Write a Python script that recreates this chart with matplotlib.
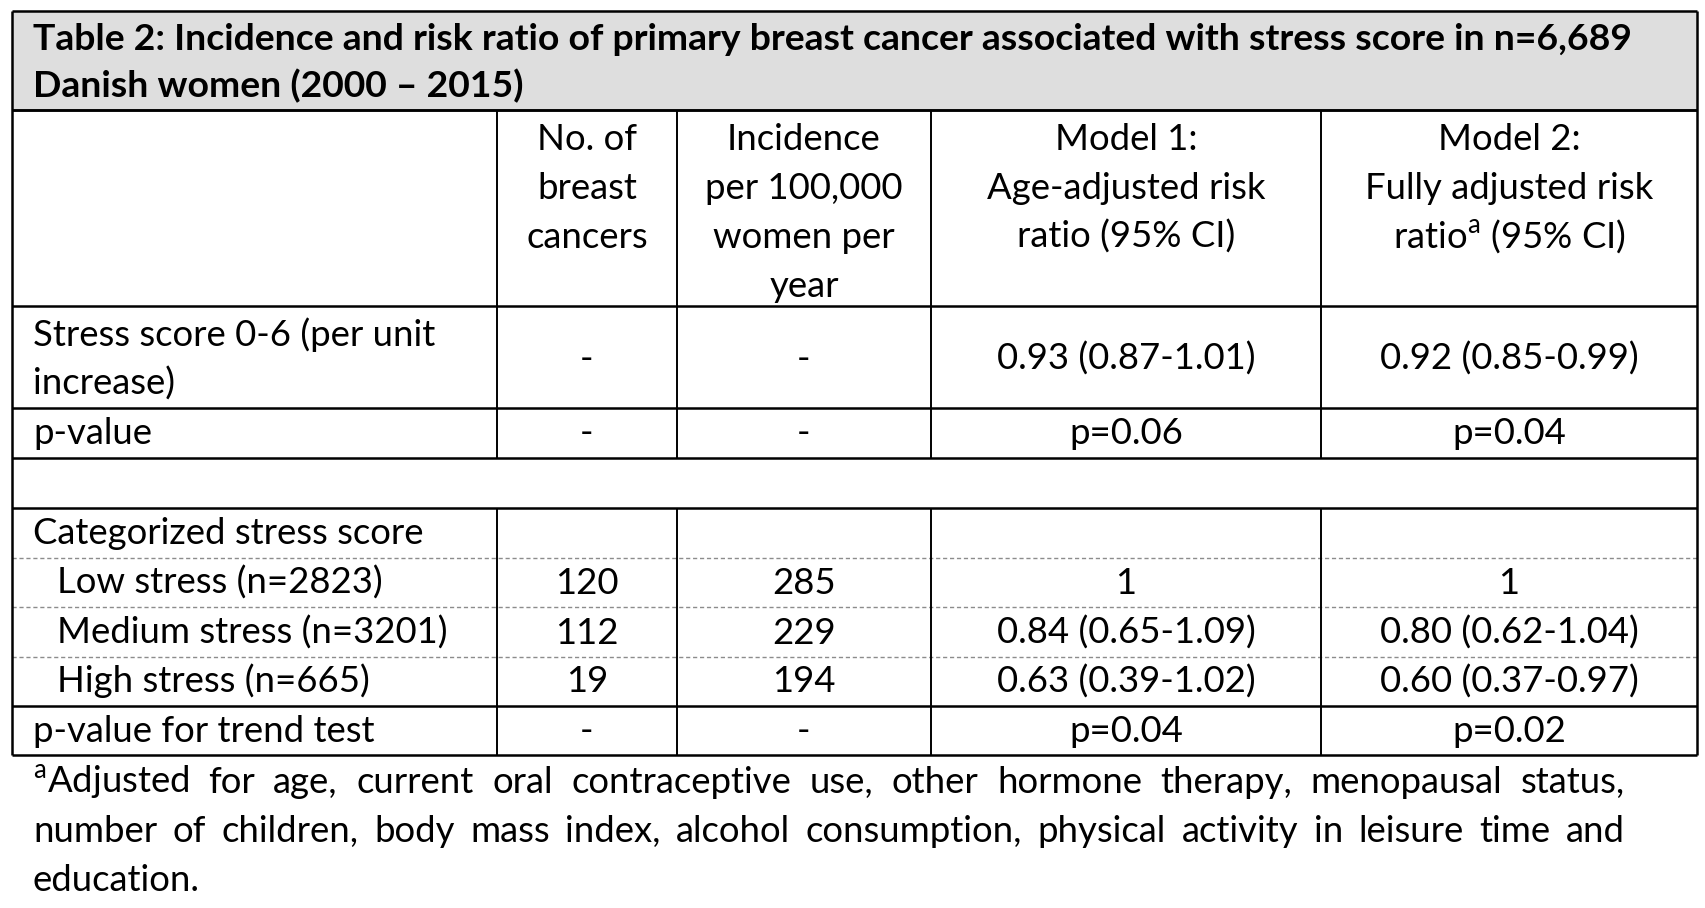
import matplotlib.pyplot as plt

plt.rcParams["font.family"] = ["Lato", "DejaVu Sans"]
plt.rcParams["mathtext.fontset"] = "custom"
plt.rcParams["mathtext.rm"] = "Lato"

W, H = 1706, 908
FS = 26.3  # body text size, pt
TITLE_FS = 26.9

# ---- table content ----
title_lines = [
    "Table 2: Incidence and risk ratio of primary breast cancer associated with stress score in n=6,689",
    "Danish women (2000 – 2015)",
]
col_headers = [
    ["No. of", "breast", "cancers"],
    ["Incidence", "per 100,000", "women per", "year"],
    ["Model 1:", "Age-adjusted risk", "ratio (95% CI)"],
    ["Model 2:", "Fully adjusted risk", r"ratio$^{\mathrm{a}}$ (95% CI)"],
]
row_labels = [
    ["Stress score 0-6 (per unit", "increase)"],
    ["p-value"],
    [],
    ["Categorized stress score"],
    ["Low stress (n=2823)"],
    ["Medium stress (n=3201)"],
    ["High stress (n=665)"],
    ["p-value for trend test"],
]
row_indent = [0, 0, 0, 0, 1, 1, 1, 0]
n_cancers = ["-", "-", "", "", "120", "112", "19", "-"]
incidence = ["-", "-", "", "", "285", "229", "194", "-"]
model1 = ["0.93 (0.87-1.01)", "p=0.06", "", "", "1", "0.84 (0.65-1.09)", "0.63 (0.39-1.02)", "p=0.04"]
model2 = ["0.92 (0.85-0.99)", "p=0.04", "", "", "1", "0.80 (0.62-1.04)", "0.60 (0.37-0.97)", "p=0.02"]
footnote = [
    r"$^{\mathrm{a}}$Adjusted for age, current oral contraceptive use, other hormone therapy, menopausal status,",
    "number of children, body mass index, alcohol consumption, physical activity in leisure time and",
    "education.",
]

# ---- layout (pixels) ----
col_x = [12, 497, 677, 931, 1321, 1697]
title_top, title_bottom = 11, 110
row_y = [110, 306, 408, 458, 508, 558, 607, 657, 706, 755]  # header row + 8 body rows
dashed_at = [5, 6, 7]  # row_y index of dotted separators
LINE = 49
TEXT_X, INDENT_X = 33, 57
FOOT_RIGHT = 1625

fig = plt.figure(figsize=(W / 100, H / 100), dpi=100)
ax = fig.add_axes([0, 0, 1, 1])
ax.set_xlim(0, W)
ax.set_ylim(H, 0)
ax.axis("off")

# title box
ax.fill_between([col_x[0], col_x[-1]], title_top, title_bottom, color="#dedede", lw=0)
for i, line in enumerate(title_lines):
    ax.text(TEXT_X, 50 + i * 47, line, fontsize=TITLE_FS, fontweight="bold", va="baseline")

# horizontal rules
thick = 1.8
ax.hlines([title_top, title_bottom], col_x[0], col_x[-1], color="black", lw=thick)
for k, y in enumerate(row_y):
    if k in dashed_at:
        ax.hlines(y, col_x[0], col_x[-1], color="#8c8c8c", lw=1.0, linestyles=(0, (3, 2)))
    else:
        ax.hlines(y, col_x[0], col_x[-1], color="black", lw=thick)

# vertical rules
ax.vlines([col_x[0], col_x[-1]], title_top, row_y[-1], color="black", lw=thick)
empty_top, empty_bot = row_y[3], row_y[4]
for x in col_x[1:-1]:
    ax.vlines(x, row_y[0], empty_top, color="black", lw=1.4)
    ax.vlines(x, empty_bot, row_y[-1], color="black", lw=1.4)

# column headers
centers = [(col_x[i] + col_x[i + 1]) / 2 for i in range(1, 5)]
for cx, lines in zip(centers, col_headers):
    for j, line in enumerate(lines):
        ax.text(cx, 150 + j * LINE, line, fontsize=FS, ha="center", va="baseline")

# body rows
columns = [n_cancers, incidence, model1, model2]
for r in range(len(row_labels)):
    bot = row_y[r + 2]
    labels = row_labels[r]
    x0 = INDENT_X if row_indent[r] else TEXT_X
    first_base = bot - 13.5 - (max(len(labels), 1) - 1) * LINE
    for j, line in enumerate(labels):
        ax.text(x0, first_base + j * LINE, line, fontsize=FS, va="baseline")
    nl = max(len(labels), 1)
    mid_base = first_base + (nl - 1) * LINE / 2
    for cx, col in zip(centers, columns):
        if col[r]:
            ax.text(cx, mid_base, col[r], fontsize=FS, ha="center", va="baseline")

# footnote, justified
renderer = fig.canvas.get_renderer()
for i, line in enumerate(footnote):
    y = 793 + i * LINE
    if i == len(footnote) - 1:
        ax.text(TEXT_X, y, line, fontsize=FS, va="baseline")
        continue
    words = line.split(" ")
    texts = [ax.text(0, y, w, fontsize=FS, va="baseline") for w in words]
    widths = [t.get_window_extent(renderer).width for t in texts]
    gap = (FOOT_RIGHT - TEXT_X - sum(widths)) / (len(words) - 1)
    x = TEXT_X
    for t, w in zip(texts, widths):
        t.set_x(x)
        x += w + gap

fig.savefig("out.png", dpi=100)
